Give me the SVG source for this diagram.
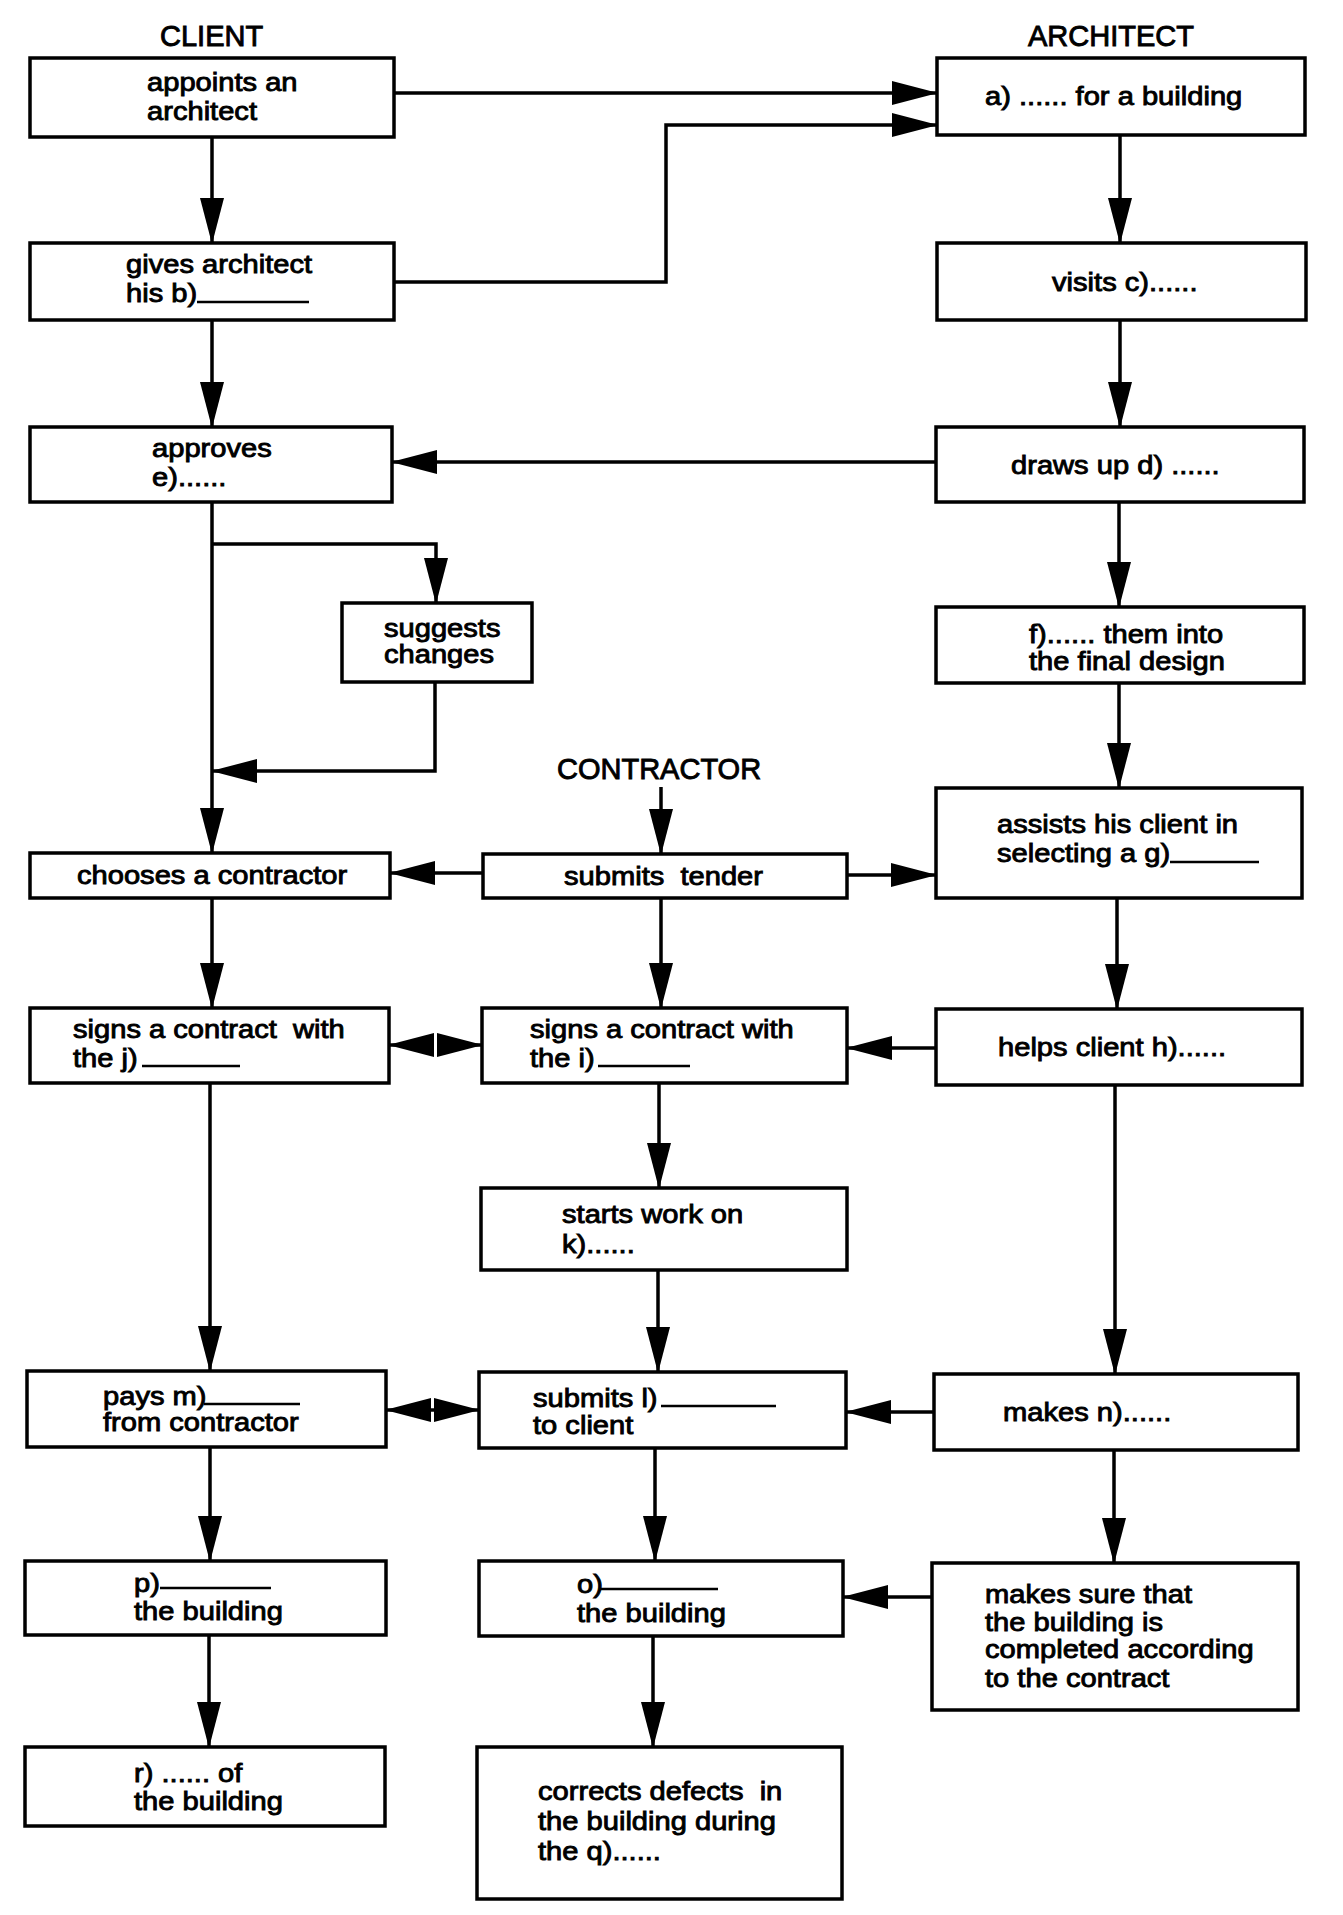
<svg xmlns="http://www.w3.org/2000/svg" width="1343" height="1915" viewBox="0 0 1343 1915">
<defs>
<marker id="ah" markerUnits="userSpaceOnUse" markerWidth="46" markerHeight="26" refX="45" refY="12" orient="auto"><path d="M0,0 L46,12 L0,24 z" fill="#000"/></marker>
</defs>
<style>
.box{fill:#fff;stroke:#000;stroke-width:3.5}
.c{fill:none;stroke:#000;stroke-width:3.5;marker-end:url(#ah)}
.t{font-family:"Liberation Sans",Arial,sans-serif;font-size:26px;fill:#000;stroke:#000;stroke-width:0.9}
.h{font-family:"Liberation Sans",Arial,sans-serif;font-size:29px;fill:#000;stroke:#000;stroke-width:0.9}
.u{stroke:#000;stroke-width:2.5}
</style>
<rect width="1343" height="1915" fill="#fff"/>

<g id="headings">
<text class="h" x="160" y="46">CLIENT</text>
<text class="h" x="1028" y="46">ARCHITECT</text>
<text class="h" x="557" y="779">CONTRACTOR</text>
</g>

<g id="connectors">
<path class="c" d="M394,93 H937"/>
<path class="c" d="M394,282 H666 V125 H937"/>
<path class="c" d="M212,137 V243"/>
<path class="c" d="M212,320 V427"/>
<path class="c" d="M1120,135 V243"/>
<path class="c" d="M1120,320 V427"/>
<path class="c" d="M937,462 H392"/>
<path class="c" d="M212,502 V853"/>
<path class="c" d="M212,544 H436 V603"/>
<path class="c" d="M435,682 V771 H212"/>
<path class="c" d="M1119,502 V607"/>
<path class="c" d="M1119,683 V788"/>
<path class="c" d="M661,787 V854"/>
<path class="c" d="M483,873 H390"/>
<path class="c" d="M847,875 H936"/>
<path class="c" d="M212,898 V1008"/>
<path class="c" d="M661,898 V1008"/>
<path class="c" d="M1117,898 V1009"/>
<path class="c" d="M434,1045 H389"/>
<path class="c" d="M438,1045 H482"/>
<path class="c" d="M936,1048 H847"/>
<path class="c" d="M659,1083 V1188"/>
<path class="c" d="M210,1083 V1371"/>
<path class="c" d="M1115,1085 V1374"/>
<path class="c" d="M658,1270 V1372"/>
<path class="c" d="M427,1410 H386"/>
<path class="c" d="M431,1410 H479"/>
<path class="c" d="M934,1412 H846"/>
<path class="c" d="M210,1447 V1561"/>
<path class="c" d="M655,1448 V1561"/>
<path class="c" d="M1114,1450 V1563"/>
<path class="c" d="M932,1597 H843"/>
<path class="c" d="M209,1635 V1747"/>
<path class="c" d="M653,1636 V1747"/>
</g>

<g id="appoints">
<rect class="box" x="30" y="58" width="364" height="79"/>
<text class="t" transform="translate(147 91) scale(1.12 1)"><tspan x="0" y="0">appoints an</tspan><tspan x="0" y="29">architect</tspan></text>
</g>
<g id="gives">
<rect class="box" x="30" y="243" width="364" height="77"/>
<text class="t" transform="translate(126 273) scale(1.12 1)"><tspan x="0" y="0">gives architect</tspan><tspan x="0" y="29">his b)</tspan></text>
<line class="u" x1="197" y1="302" x2="309" y2="302"/>
</g>
<g id="approves">
<rect class="box" x="30" y="427" width="362" height="75"/>
<text class="t" transform="translate(152 457) scale(1.12 1)"><tspan x="0" y="0">approves</tspan><tspan x="0" y="29">e)......</tspan></text>
</g>
<g id="suggests">
<rect class="box" x="342" y="603" width="190" height="79"/>
<text class="t" transform="translate(384 637) scale(1.12 1)"><tspan x="0" y="0">suggests</tspan><tspan x="0" y="26">changes</tspan></text>
</g>
<g id="chooses">
<rect class="box" x="30" y="853" width="360" height="45"/>
<text class="t" transform="translate(77 884) scale(1.12 1)">chooses a contractor</text>
</g>
<g id="signs-client">
<rect class="box" x="30" y="1008" width="359" height="75"/>
<text class="t" transform="translate(73 1038) scale(1.12 1)"><tspan x="0" y="0" xml:space="preserve">signs a contract  with</tspan><tspan x="0" y="29">the j)</tspan></text>
<line class="u" x1="142" y1="1066" x2="240" y2="1066"/>
</g>
<g id="pays">
<rect class="box" x="27" y="1371" width="359" height="76"/>
<text class="t" transform="translate(103 1405) scale(1.12 1)"><tspan x="0" y="0">pays m)</tspan><tspan x="0" y="26">from contractor</tspan></text>
<line class="u" x1="204" y1="1404" x2="300" y2="1404"/>
</g>
<g id="p-node">
<rect class="box" x="25" y="1561" width="361" height="74"/>
<text class="t" transform="translate(134 1592) scale(1.12 1)"><tspan x="0" y="0">p)</tspan><tspan x="0" y="28">the building</tspan></text>
<line class="u" x1="160" y1="1588" x2="271" y2="1588"/>
</g>
<g id="r-node">
<rect class="box" x="25" y="1747" width="360" height="79"/>
<text class="t" transform="translate(134 1782) scale(1.12 1)"><tspan x="0" y="0">r) ...... of</tspan><tspan x="0" y="28">the building</tspan></text>
</g>

<g id="submits-tender">
<rect class="box" x="483" y="854" width="364" height="44"/>
<text class="t" transform="translate(564 885) scale(1.12 1)" xml:space="preserve">submits  tender</text>
</g>
<g id="signs-contractor">
<rect class="box" x="482" y="1008" width="365" height="75"/>
<text class="t" transform="translate(530 1038) scale(1.12 1)"><tspan x="0" y="0">signs a contract with</tspan><tspan x="0" y="29">the i)</tspan></text>
<line class="u" x1="598" y1="1066" x2="690" y2="1066"/>
</g>
<g id="starts">
<rect class="box" x="481" y="1188" width="366" height="82"/>
<text class="t" transform="translate(562 1223) scale(1.12 1)"><tspan x="0" y="0">starts work on</tspan><tspan x="0" y="30">k)......</tspan></text>
</g>
<g id="submits-l">
<rect class="box" x="479" y="1372" width="367" height="76"/>
<text class="t" transform="translate(533 1407) scale(1.12 1)"><tspan x="0" y="0">submits l)</tspan><tspan x="0" y="27">to client</tspan></text>
<line class="u" x1="661" y1="1406" x2="776" y2="1406"/>
</g>
<g id="o-node">
<rect class="box" x="479" y="1561" width="364" height="75"/>
<text class="t" transform="translate(577 1593) scale(1.12 1)"><tspan x="0" y="0">o)</tspan><tspan x="0" y="29">the building</tspan></text>
<line class="u" x1="600" y1="1589" x2="718" y2="1589"/>
</g>
<g id="corrects">
<rect class="box" x="477" y="1747" width="365" height="152"/>
<text class="t" transform="translate(538 1800) scale(1.12 1)"><tspan x="0" y="0" xml:space="preserve">corrects defects  in</tspan><tspan x="0" y="30">the building during</tspan><tspan x="0" y="60">the q)......</tspan></text>
</g>

<g id="a-node">
<rect class="box" x="937" y="58" width="368" height="77"/>
<text class="t" transform="translate(985 105) scale(1.12 1)">a) ...... for a building</text>
</g>
<g id="visits">
<rect class="box" x="937" y="243" width="369" height="77"/>
<text class="t" transform="translate(1052 291) scale(1.12 1)">visits c)......</text>
</g>
<g id="draws">
<rect class="box" x="936" y="427" width="368" height="75"/>
<text class="t" transform="translate(1011 474) scale(1.12 1)">draws up d) ......</text>
</g>
<g id="f-node">
<rect class="box" x="936" y="607" width="368" height="76"/>
<text class="t" transform="translate(1029 643) scale(1.12 1)"><tspan x="0" y="0">f)...... them into</tspan><tspan x="0" y="27">the final design</tspan></text>
</g>
<g id="assists">
<rect class="box" x="936" y="788" width="366" height="110"/>
<text class="t" transform="translate(997 833) scale(1.12 1)"><tspan x="0" y="0">assists his client in</tspan><tspan x="0" y="29">selecting a g)</tspan></text>
<line class="u" x1="1170" y1="862" x2="1259" y2="862"/>
</g>
<g id="helps">
<rect class="box" x="936" y="1009" width="366" height="76"/>
<text class="t" transform="translate(998 1056) scale(1.12 1)">helps client h)......</text>
</g>
<g id="makes-n">
<rect class="box" x="934" y="1374" width="364" height="76"/>
<text class="t" transform="translate(1003 1421) scale(1.12 1)">makes n)......</text>
</g>
<g id="makes-sure">
<rect class="box" x="932" y="1563" width="366" height="147"/>
<text class="t" transform="translate(985 1603) scale(1.12 1)"><tspan x="0" y="0">makes sure that</tspan><tspan x="0" y="28">the building is</tspan><tspan x="0" y="55">completed according</tspan><tspan x="0" y="84">to the contract</tspan></text>
</g>
</svg>
